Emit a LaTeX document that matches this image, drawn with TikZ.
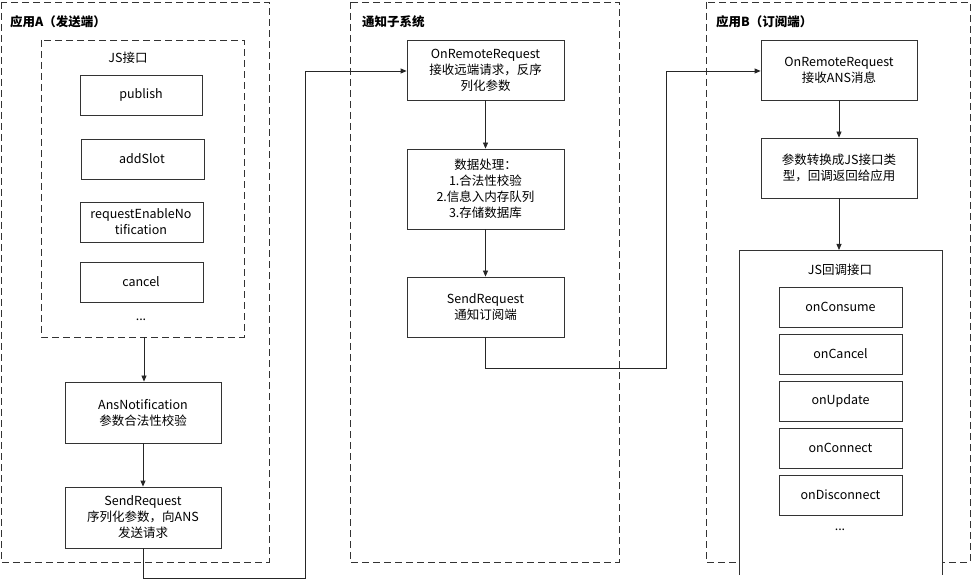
\documentclass[tikz,border=0pt]{standalone}
\usepackage{fontspec}
\setmainfont{Noto Sans CJK SC}
\usetikzlibrary{arrows.meta}
\begin{document}
\begin{tikzpicture}[x=1pt,y=-1pt,
  panel/.style={draw=black!80,dash pattern=on 7pt off 4pt,line width=0.8pt},
  box/.style={draw=black!80,line width=0.8pt,fill=white},
  lbl/.style={font=\fontsize{12.5}{16}\selectfont,align=center,inner sep=0},
  ttl/.style={font=\fontsize{12.5}{16}\selectfont\bfseries,anchor=west,inner sep=0},
  arr/.style={-{Triangle[length=6pt,width=5pt]},line width=0.8pt,draw=black!85}]
\useasboundingbox (0,0) rectangle (975,585);
% Panel A
\draw[panel] (1,2) rectangle (269,562);
\node[ttl] (tA) at (10,22) {应用A（发送端）};
\draw[panel] (41,40) rectangle (244,337);
\coordinate (jsB) at (144,337);
\node[lbl] (tjs) at (128,58) {JS接口};
\draw[box] (80,75) rectangle (202,115); \node[lbl] (p1) at (141,95) {publish};
\draw[box] (81,139) rectangle (204,179); \node[lbl] (p2) at (142,159) {addSlot};
\draw[box] (80,202) rectangle (203,242); \node[lbl] (p3) at (141,222) {requestEnableNo\\tification};
\draw[box] (80,262) rectangle (203,302); \node[lbl] (p4) at (141,282) {cancel};
\node[lbl] (p5) at (141,320) {...};
\node[box,minimum width=156pt,minimum height=61pt,lbl] (ans) at (143,412.5) {AnsNotification\\参数合法性校验};
\node[box,minimum width=156pt,minimum height=61pt,lbl] (sra) at (143,517.5) {SendRequest\\序列化参数，向ANS\\发送请求};
\draw[arr] (jsB) -- (jsB|-ans.north);
\draw[arr] (ans) -- (sra);
% Panel notify
\draw[panel] (350,2) rectangle (619,562);
\node[ttl] (tN) at (362,22) {通知子系统};
\node[box,minimum width=157pt,minimum height=60pt,lbl] (orr) at (485.5,70) {OnRemoteRequest\\接收远端请求，反序\\列化参数};
\node[box,minimum width=157pt,minimum height=80pt,lbl] (dp) at (485.5,189) {数据处理：\\1.合法性校验\\2.信息入内存队列\\3.存储数据库};
\node[box,minimum width=157pt,minimum height=60pt,lbl] (srn) at (485.5,307) {SendRequest\\通知订阅端};
\draw[arr] (orr) -- (dp);
\draw[arr] (dp) -- (srn);
\draw[arr] (sra.south) -- ++(0,30) -| (305,71) -- (orr.west|-0,71);
% Panel B
\draw[panel] (706,2) rectangle (970,562);
\node[ttl] (tB) at (716,22) {应用B（订阅端）};
\node[box,minimum width=156pt,minimum height=60pt,lbl] (orb) at (839,70) {OnRemoteRequest\\接收ANS消息};
\node[box,minimum width=156pt,minimum height=60pt,lbl] (cv) at (839,168) {参数转换成JS接口类\\型，回调返回给应用};
\draw[arr] (srn.south) -- ++(0,31) -| (666,71) -- (orb.west|-0,71);
\draw[box] (739,575) -- (739,250) -- (942,250) -- (942,575);
\coordinate (cbT) at (839,250);
\node[lbl] (tcb) at (840,270) {JS回调接口};
\draw[arr] (orb) -- (cv);
\draw[arr] (cv) -- (cbT);
\node[box,minimum width=123pt,minimum height=40pt,lbl] (c1) at (840.5,307) {onConsume};
\node[box,minimum width=123pt,minimum height=40pt,lbl] (c2) at (840.5,354) {onCancel};
\node[box,minimum width=123pt,minimum height=40pt,lbl] (c3) at (840.5,401) {onUpdate};
\node[box,minimum width=123pt,minimum height=40pt,lbl] (c4) at (840.5,448) {onConnect};
\node[box,minimum width=123pt,minimum height=40pt,lbl] (c5) at (840.5,495) {onDisconnect};
\node[lbl] (c6) at (840,530) {...};
\end{tikzpicture}
\end{document}
